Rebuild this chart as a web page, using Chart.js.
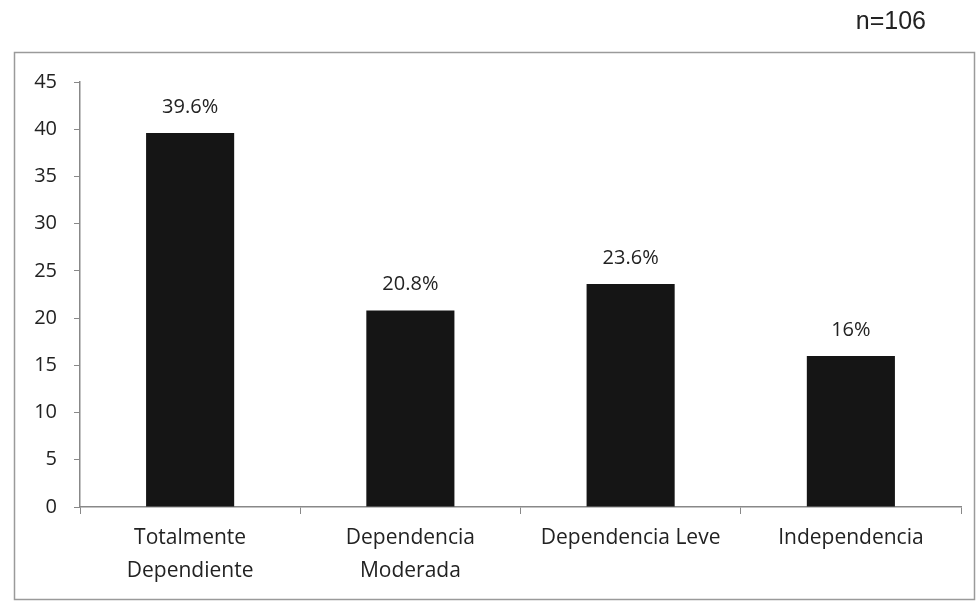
<!DOCTYPE html>
<html>
<head>
<meta charset="utf-8">
<script src="https://cdn.jsdelivr.net/npm/chart.js@4/dist/chart.umd.min.js"></script>
<style>
  html, body { margin: 0; padding: 0; background: #fff; }
  #wrap { position: relative; width: 979px; height: 602px; }
</style>
</head>
<body>
<div id="wrap"><canvas id="grafico" width="979" height="602"></canvas></div>
<script>
// datos del gráfico
var categorias = [['Totalmente', 'Dependiente'], ['Dependencia', 'Moderada'], 'Dependencia Leve', 'Independencia'];
var valores = [39.6, 20.8, 23.6, 16];
var etiquetas = ['39.6%', '20.8%', '23.6%', '16%'];
var muestra = 'n=106';

var fuente = '"Open Sans", Lato, sans-serif';

// marco exterior, texto n=106 y etiquetas sobre las barras
var marco = {
    id: 'marco',
    beforeDraw: function(chart) {
        var ctx = chart.ctx;
        ctx.save();
        ctx.strokeStyle = '#9a9a9a';
        ctx.lineWidth = 1.5;
        ctx.strokeRect(14.5, 52.5, 960, 547);
        ctx.fillStyle = '#222';
        ctx.font = '25px "Liberation Sans", Arial, sans-serif';
        ctx.textAlign = 'right';
        ctx.textBaseline = 'middle';
        ctx.fillText(muestra, 926, 22);
        ctx.restore();
    },
    afterDatasetsDraw: function(chart) {
        var ctx = chart.ctx;
        var barras = chart.getDatasetMeta(0).data;
        ctx.save();
        ctx.fillStyle = '#222';
        ctx.font = '20px ' + fuente;
        ctx.textAlign = 'center';
        ctx.textBaseline = 'middle';
        barras.forEach(function(b, i) {
            ctx.fillText(etiquetas[i], b.x, b.y - 26);
        });
        ctx.restore();
    }
};

var ctx = document.getElementById('grafico').getContext('2d');
var chart = new Chart(ctx, {
    type: 'bar',
    data: {
        labels: categorias,
        datasets: [{
            data: valores,
            backgroundColor: '#151515',
            borderWidth: 0,
            categoryPercentage: 1,
            barPercentage: 0.4
        }]
    },
    options: {
        responsive: false,
        animation: false,
        layout: { padding: { top: 82, right: 18, left: 0, bottom: 0 } },
        plugins: {
            legend: { display: false },
            tooltip: { enabled: false }
        },
        scales: {
            x: {
                grid: { display: true, drawOnChartArea: false, offset: true, color: '#888', tickLength: 7 },
                border: { color: '#888', width: 1.5 },
                ticks: { color: '#222', font: { family: fuente, size: 21, lineHeight: 1.55 }, padding: 8, maxRotation: 0 },
                afterFit: function(scale) { scale.height = 95; }
            },
            y: {
                min: 0,
                max: 45,
                ticks: { stepSize: 5, color: '#222', font: { family: fuente, size: 20 }, padding: 17 },
                grid: { display: true, drawOnChartArea: false, color: '#888', tickLength: 6 },
                border: { color: '#888', width: 1.5 },
                afterFit: function(scale) { scale.width = 80; }
            }
        }
    },
    plugins: [marco]
});
</script>
</body>
</html>
